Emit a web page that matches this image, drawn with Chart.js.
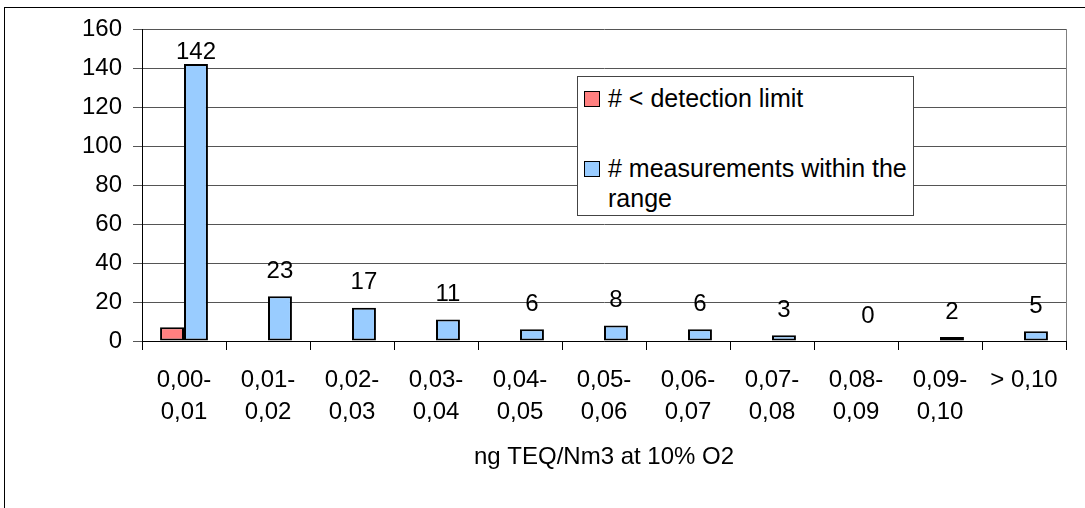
<!DOCTYPE html>
<html lang="en">
<head>
    <meta charset="UTF-8">
    <title>Dioxin measurements histogram</title>
    <script src="https://cdn.jsdelivr.net/npm/chart.js@4.4.1/dist/chart.umd.min.js"></script>
    <style>
        body { margin: 0; overflow: hidden; background: #fff; font-family: "Liberation Sans", Arial, sans-serif; }
        #frame { position: absolute; left: 4px; top: 7px; width: 1200px; height: 700px; border: 1px solid #000; }
        #wrap { position: absolute; left: 0; top: 0; width: 1085px; height: 508px; }
        #legend { position: absolute; left: 577px; top: 76px; width: 335px; height: 138px;
                  border: 1px solid #444; background: #fff; box-sizing: content-box; }
        .item { display: flex; align-items: flex-start; position: absolute; left: 6px; }
        .box { width: 14px; height: 14px; border: 1px solid #000; margin-top: 8px; margin-right: 8px; flex: none; }
        .txt { font-size: 25px; line-height: 30px; width: 304px; color: #000; }
    </style>
</head>
<body>

<div id="frame"></div>
<div id="wrap"><canvas id="theBarChart"></canvas></div>
<div id="legend"></div>

<script>
    // categories on the x axis (two-line labels)
    var categories = [
        ["0,00-", "0,01"], ["0,01-", "0,02"], ["0,02-", "0,03"], ["0,03-", "0,04"],
        ["0,04-", "0,05"], ["0,05-", "0,06"], ["0,06-", "0,07"], ["0,07-", "0,08"],
        ["0,08-", "0,09"], ["0,09-", "0,10"], ["> 0,10"]
    ];
    var belowLimit  = [7, 0, 0, 0, 0, 0, 0, 0, 0, 0, 0];
    var withinRange = [142, 23, 17, 11, 6, 8, 6, 3, 0, 2, 5];
    var seriesNames = ["# < detection limit", "# measurements within the range"];
    var yTicks = [0, 20, 40, 60, 80, 100, 120, 140, 160];
    var xTitle = "ng TEQ/Nm3 at 10% O2";
    //
    var FONT = "'Liberation Sans', Arial, sans-serif";

    // no outline on empty bars
    function outline(values) {
        return values.map(function(v) { return v === 0 ? 0 : 2; });
    }

    // value labels above the blue bars
    var barLabels = {
        id: "barLabels",
        afterDatasetsDraw: function(chart) {
            var ctx = chart.ctx;
            var meta = chart.getDatasetMeta(1);
            ctx.save();
            ctx.font = "24px " + FONT;
            ctx.fillStyle = "#000";
            ctx.textAlign = "center";
            ctx.textBaseline = "middle";
            meta.data.forEach(function(el, i) {
                var y = Math.max(el.y - 25, chart.chartArea.top + 23);
                ctx.fillText(String(withinRange[i]), el.x, y);
            });
            ctx.restore();
        }
    };
    // grey right border of the plot area
    var plotBorder = {
        id: "plotBorder",
        beforeDatasetsDraw: function(chart) {
            var a = chart.chartArea, ctx = chart.ctx;
            ctx.save();
            ctx.strokeStyle = "#808080";
            ctx.lineWidth = 1;
            ctx.beginPath();
            ctx.moveTo(Math.round(a.right) + 0.5, a.top);
            ctx.lineTo(Math.round(a.right) + 0.5, a.bottom);
            ctx.stroke();
            ctx.restore();
        }
    };

    var barChart = new Chart("theBarChart", {
        type: "bar",
        data: {
            labels: categories,
            datasets: [{
                label: seriesNames[0],
                data: belowLimit,
                backgroundColor: "#FF8080",
                borderColor: "#000",
                borderWidth: outline(belowLimit),
                borderSkipped: false
            }, {
                label: seriesNames[1],
                data: withinRange,
                backgroundColor: "#99CCFF",
                borderColor: "#000",
                borderWidth: outline(withinRange),
                borderSkipped: false
            }]
        },
        options: {
            responsive: true,
            maintainAspectRatio: false,
            animation: false,
            categoryPercentage: 0.57,
            barPercentage: 1.0,
            layout: { padding: { left: 0, right: 19, top: 29, bottom: 0 } },
            plugins: {
                legend: { display: false },
                tooltip: { enabled: false },
                title: { display: false }
            },
            scales: {
                x: {
                    grid: { offset: true, drawOnChartArea: false, color: "#000", tickLength: 9 },
                    border: { color: "#000" },
                    ticks: {
                        color: "#000",
                        padding: 14,
                        maxRotation: 0,
                        autoSkip: false,
                        font: { family: FONT, size: 24, lineHeight: 1.35 }
                    },
                    title: {
                        display: true,
                        text: xTitle,
                        color: "#000",
                        padding: { top: 0, bottom: 36 },
                        font: { family: FONT, size: 24, lineHeight: 1.2 }
                    },
                    afterFit: function(scale) { scale.height = 167; }
                },
                y: {
                    min: yTicks[0],
                    max: yTicks[yTicks.length - 1],
                    afterBuildTicks: function(scale) {
                        scale.ticks = yTicks.map(function(v) { return { value: v }; });
                    },
                    grid: { color: "#555", tickLength: 9 },
                    border: { color: "#000" },
                    ticks: {
                        color: "#000",
                        padding: 11,
                        font: { family: FONT, size: 24 }
                    },
                    afterFit: function(scale) { scale.width = 142; }
                }
            }
        },
        plugins: [barLabels, plotBorder]
    });

    // html legend built from the datasets
    var legendColors = ["#FF8080", "#99CCFF"];
    var legendTops = [6, 76];
    var legend = document.getElementById("legend");
    barChart.data.datasets.forEach(function(ds, i) {
        var item = document.createElement("div");
        item.className = "item";
        item.style.top = legendTops[i] + "px";
        var box = document.createElement("span");
        box.className = "box";
        box.style.background = legendColors[i];
        var txt = document.createElement("span");
        txt.className = "txt";
        txt.textContent = ds.label;
        item.appendChild(box);
        item.appendChild(txt);
        legend.appendChild(item);
    });
</script>

</body>
</html>
